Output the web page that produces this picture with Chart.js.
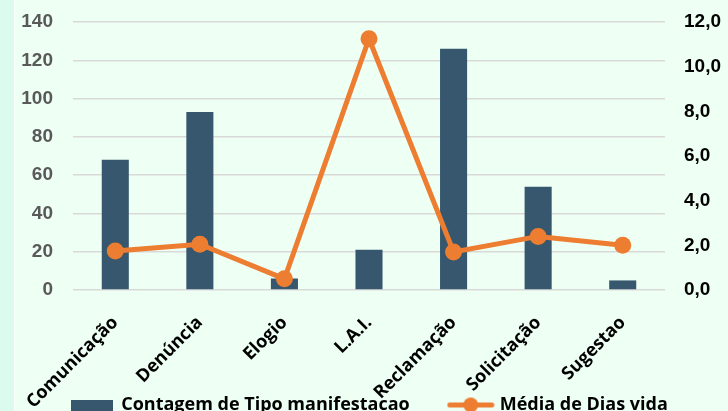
<!DOCTYPE html>
<html>
<head>
<meta charset="utf-8">
<script src="https://cdn.jsdelivr.net/npm/chart.js@4.4.1/dist/chart.umd.min.js"></script>
<style>
  html, body { margin: 0; padding: 0; }
  #wrap {
    width: 728px; height: 411px; position: relative; overflow: hidden;
    background: linear-gradient(to right, #dbfbee 0, #dbfbee 14px, #f7fffa 14px, #f7fffa 15px, #eefff3 15px);
  }
  canvas { display: block; }
</style>
</head>
<body>
<div id="wrap"><canvas id="chart" width="728" height="411"></canvas></div>
<script>
const categories = ['Comunicação', 'Denúncia', 'Elogio', 'L.A.I.', 'Reclamação', 'Solicitação', 'Sugestao'];
const contagem = [68, 93, 6, 21, 126, 54, 5];
const mediaDias = [1.75, 2.05, 0.5, 11.25, 1.7, 2.4, 2.0];
const leftTicks = [0, 20, 40, 60, 80, 100, 120, 140];
const rightTicks = [0, 2, 4, 6, 8, 10, 12];

const BLUE = '#36576d';
const ORANGE = '#ed7d31';

// legend symbols
const barImg = document.createElement('canvas');
barImg.width = 42; barImg.height = 11;
let g = barImg.getContext('2d');
g.fillStyle = BLUE;
g.fillRect(0, 0, 42, 11);

const lineImg = document.createElement('canvas');
lineImg.width = 48; lineImg.height = 17;
g = lineImg.getContext('2d');
g.strokeStyle = ORANGE;
g.lineWidth = 5;
g.lineCap = 'round';
g.beginPath(); g.moveTo(3, 8.5); g.lineTo(45, 8.5); g.stroke();
g.fillStyle = ORANGE;
g.beginPath(); g.arc(24, 8.5, 7.5, 0, Math.PI * 2); g.fill();

// let the rotated x labels run down over the legend (no clipping at axis bottom)
const unclipLabels = {
    id: 'unclipLabels',
    afterLayout(chart) {
        chart.scales.x.bottom = chart.height;
    }
};

const ctx = document.getElementById('chart').getContext('2d');

const data = {
    labels: categories,
    datasets: [
        {
            type: 'bar',
            label: 'Contagem de Tipo manifestacao',
            data: contagem,
            backgroundColor: BLUE,
            yAxisID: 'y',
            barPercentage: 0.32,
            categoryPercentage: 1,
            order: 1,
        },
        {
            type: 'line',
            label: 'Média de Dias vida',
            data: mediaDias,
            borderColor: ORANGE,
            backgroundColor: ORANGE,
            borderWidth: 5,
            pointRadius: 8.5,
            pointBackgroundColor: ORANGE,
            pointBorderWidth: 0,
            yAxisID: 'y1',
            order: 0,
        }
    ]
};

const config = {
    data: data,
    plugins: [unclipLabels],
    options: {
        responsive: false,
        animation: false,
        layout: {
            padding: { top: 22, left: 12, right: 0, bottom: -13 }
        },
        plugins: {
            tooltip: { enabled: false },
            legend: {
                position: 'bottom',
                labels: {
                    usePointStyle: true,
                    pointStyleWidth: 40,
                    padding: 41,
                    color: '#000',
                    font: { family: 'Open Sans', size: 18, weight: 'bold' },
                    sort: (a, b) => a.datasetIndex - b.datasetIndex,
                    generateLabels: (chart) => {
                        const items = Chart.defaults.plugins.legend.labels.generateLabels(chart);
                        items.forEach(it => { it.pointStyle = it.datasetIndex === 0 ? barImg : lineImg; });
                        return items;
                    }
                }
            }
        },
        scales: {
            x: {
                grid: { display: false },
                border: { display: false },
                ticks: {
                    autoSkip: false,
                    minRotation: 45,
                    maxRotation: 45,
                    padding: 14,
                    color: '#000',
                    font: { family: 'Open Sans', size: 18, weight: 'bold' }
                },
                afterFit: (s) => { s.height = 65; }
            },
            y: {
                position: 'left',
                min: 0,
                max: 140,
                afterBuildTicks: (s) => { s.ticks = leftTicks.map(v => ({ value: v })); },
                grid: { color: '#d9d9d9', lineWidth: 1.5, drawTicks: true, tickLength: 20, tickColor: 'rgba(0,0,0,0)' },
                border: { display: false },
                ticks: {
                    padding: 0,
                    color: '#595959',
                    font: { family: 'Liberation Sans', size: 19, weight: 'bold' }
                },
                afterFit: (s) => { s.width = 61; }
            },
            y1: {
                position: 'right',
                min: 0,
                max: 12,
                afterBuildTicks: (s) => { s.ticks = rightTicks.map(v => ({ value: v })); },
                grid: { drawOnChartArea: false, drawTicks: true, tickLength: 19, tickColor: 'rgba(0,0,0,0)' },
                border: { display: false },
                ticks: {
                    padding: 0,
                    color: '#000',
                    font: { family: 'Liberation Sans', size: 19, weight: 'bold' },
                    callback: (v) => v.toFixed(1).replace('.', ',')
                },
                afterFit: (s) => { s.width = 63; }
            }
        }
    }
};

const myChart = new Chart(ctx, config);
</script>
</body>
</html>
